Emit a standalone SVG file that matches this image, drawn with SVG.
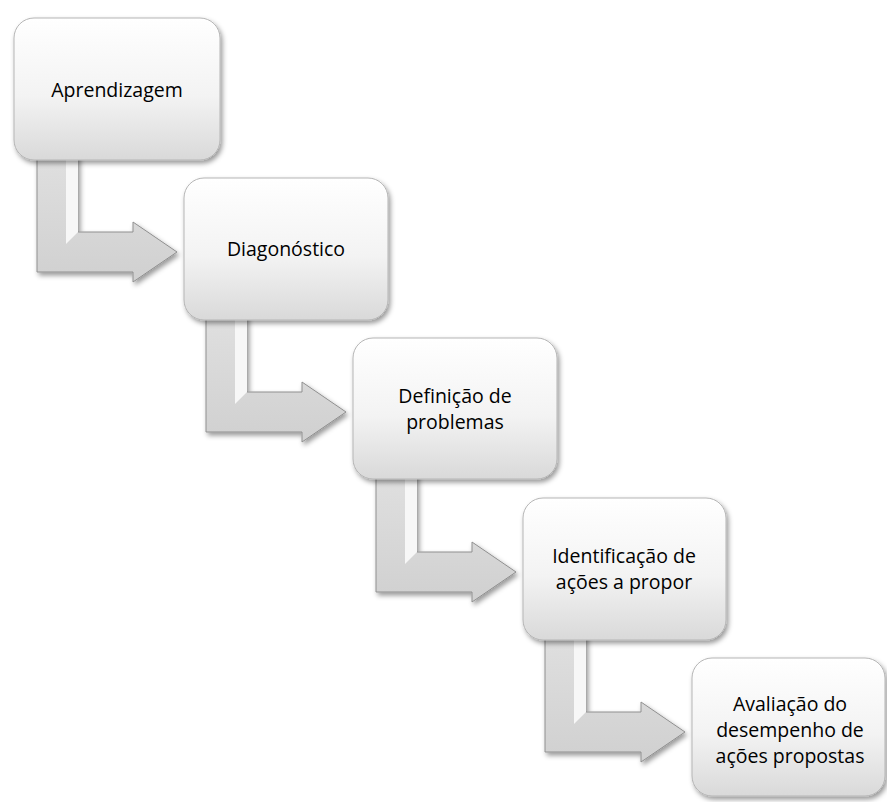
<svg xmlns="http://www.w3.org/2000/svg" width="887" height="802" viewBox="0 0 887 802">
<defs>
<linearGradient id="boxGrad" x1="0" y1="0" x2="0" y2="1">
<stop offset="0" stop-color="#ffffff"/>
<stop offset="0.55" stop-color="#f3f3f3"/>
<stop offset="1" stop-color="#d9d9d9"/>
</linearGradient>
<linearGradient id="arrowGrad" x1="0" y1="0" x2="0" y2="1">
<stop offset="0" stop-color="#e0e0e0"/>
<stop offset="1" stop-color="#d0d0d0"/>
</linearGradient>
<filter id="shadow" x="-10%" y="-10%" width="125%" height="125%">
<feDropShadow dx="2" dy="3" stdDeviation="2.5" flood-color="#000" flood-opacity="0.4"/>
</filter>
<path id="arrow" d="M37,150 L78,150 L78,232 L133,232 L133,222 L177,252 L133,282 L133,272 L37,272 Z"/>
<path id="arrowHi" d="M66,150 L78,150 L78,232 L66,244 Z"/>
</defs>
<style>
.box{fill:url(#boxGrad);stroke:#b5b5b5;stroke-width:1;filter:url(#shadow)}
.arr{fill:url(#arrowGrad);stroke:#8f8f8f;stroke-width:1;filter:url(#shadow)}
.hi{fill:#f7f7f7}
.lbl{font-family:"Open Sans","Liberation Sans",sans-serif;font-size:19.5px;fill:#000;text-anchor:middle}
</style>
<g id="connectors">
<g transform="translate(0,0)"><use href="#arrow" class="arr"/><use href="#arrowHi" class="hi"/></g>
<g transform="translate(169,160)"><use href="#arrow" class="arr"/><use href="#arrowHi" class="hi"/></g>
<g transform="translate(339,320)"><use href="#arrow" class="arr"/><use href="#arrowHi" class="hi"/></g>
<g transform="translate(508,480)"><use href="#arrow" class="arr"/><use href="#arrowHi" class="hi"/></g>
</g>
<g id="node1">
<rect class="box" x="14" y="18" width="206" height="142" rx="20"/>
<text class="lbl" x="117" y="97">Aprendizagem</text>
</g>
<g id="node2">
<rect class="box" x="184" y="178" width="204" height="142" rx="20"/>
<text class="lbl" x="286" y="256">Diagonóstico</text>
</g>
<g id="node3">
<rect class="box" x="353" y="338" width="204" height="141" rx="20"/>
<text class="lbl" x="455" y="403">Definição de</text>
<text class="lbl" x="455" y="429">problemas</text>
</g>
<g id="node4">
<rect class="box" x="523" y="498" width="203" height="142" rx="20"/>
<text class="lbl" x="624" y="563">Identificação de</text>
<text class="lbl" x="624" y="589">ações a propor</text>
</g>
<g id="node5">
<rect class="box" x="692" y="658" width="193" height="138" rx="20"/>
<text class="lbl" x="790" y="711">Avaliação do</text>
<text class="lbl" x="790" y="737">desempenho de</text>
<text class="lbl" x="790" y="763">ações propostas</text>
</g>
</svg>
